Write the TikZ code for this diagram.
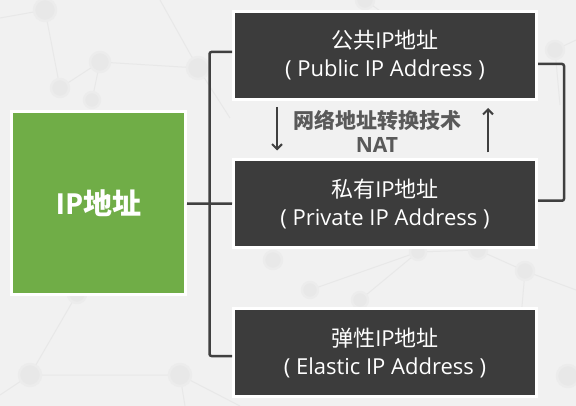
\documentclass[tikz,border=0pt]{standalone}
\usepackage{fontspec}
\setmainfont{Open Sans}
\newfontfamily\cjk{Noto Sans CJK SC}
\usepackage{tikz}
\usetikzlibrary{arrows.meta, positioning, calc}
\definecolor{bggray}{RGB}{241, 241, 241}
\definecolor{netgray}{RGB}{232, 232, 232}
\definecolor{ipgreen}{RGB}{112, 173, 71}
\definecolor{boxdark}{RGB}{60, 60, 60}
\definecolor{linedark}{RGB}{64, 64, 64}
\definecolor{natgray}{RGB}{89, 89, 89}

\tikzset{
    ipbox/.style={fill=boxdark, draw=white, line width=3pt, minimum width=303pt,
          minimum height=88pt, inner sep=0pt, align=center, text=white,
          font=\fontsize{22}{28}\selectfont},
    treeline/.style={draw=linedark, line width=2.5pt, rounded corners=2pt},
    natarrow/.style={draw=linedark, line width=2pt, -{Straight Barb[length=5pt, width=10pt]}},
    netdot/.style={fill=netgray, draw=netgray!50!bggray, line width=2.5pt}
}

\begin{document}
\begin{tikzpicture}[x=1pt, y=-1pt]
    \fill[bggray] (0,0) rectangle (576,406);
    \useasboundingbox (0,0) rectangle (576,406);

    % faint network in the background
    \draw[netgray, line width=1pt]
        (0,18) -- (45,10) -- (60,88) -- (100,62) -- (198,68) -- (230,118)
        (160,0) -- (198,68) (100,62) -- (92,100)
        (0,395) -- (30,375) -- (180,375) -- (240,406) (180,375) -- (185,406)
        (30,375) -- (77,294)
        (310,290) -- (418,252) -- (478,250) -- (525,271) -- (576,290)
        (360,300) -- (418,252) (525,271) -- (520,330)
        (365,0) -- (420,40) (555,50) -- (576,40) (555,50) -- (560,105);
    \foreach \x/\y/\r in {45/10/11, 100/62/10, 60/88/9, 92/100/8, 198/68/11, 30/375/11,
                       180/375/11, 77/294/9, 273/260/9, 418/252/8, 478/250/9, 525/271/9,
                       310/290/8, 360/300/8, 568/376/11, 365/0/9, 555/50/9}
        \fill[netdot] (\x,\y) circle (\r pt);

    % root
    \node[fill=ipgreen, draw=white, line width=3pt, minimum width=174pt, minimum height=183pt,
          inner sep=0pt, text=white, font=\fontsize{29}{30}\selectfont\bfseries] (ip) at (98.5,203.5) {IP{\cjk 地址}};

    % three kinds of address
    \node[ipbox] (pub) at (385,55.5) {{\cjk 公共}IP{\cjk 地址}\\( Public IP Address )};
    \node[ipbox, minimum height=87.5pt] (priv) at (385,203.75) {{\cjk 私有}IP{\cjk 地址}\\( Private IP Address )};
    \node[ipbox] (ela) at (385,352.5) {{\cjk 弹性}IP{\cjk 地址}\\( Elastic IP Address )};

    % tree
    \coordinate (spine) at ($(ip.east)!0.5!(priv.west)$);
    \draw[treeline] ([yshift=3.5pt]pub.west) -| (spine) |- ([yshift=-3.5pt]ela.west);
    \draw[treeline] (ip.east) -- (priv.west);
    \draw[treeline] ([yshift=-8.5pt]pub.east) -- ++(26,0) |- ([yshift=3pt]priv.east);

    % NAT
    \node[text=natgray, align=center, font=\fontsize{21}{24}\selectfont\bfseries]
        (nat) at ($($(pub.south)!0.5!(priv.north)$)+(-8,2)$) {{\cjk 网络地址转换技术}\\NAT};
    \draw[natarrow] ([xshift=-108pt, yshift=-6pt]pub.south) -- ([xshift=-108pt, yshift=8pt]priv.north);
    \draw[natarrow] ([xshift=103pt, yshift=6pt]priv.north) -- ([xshift=103pt, yshift=-7pt]pub.south);
\end{tikzpicture}
\end{document}
